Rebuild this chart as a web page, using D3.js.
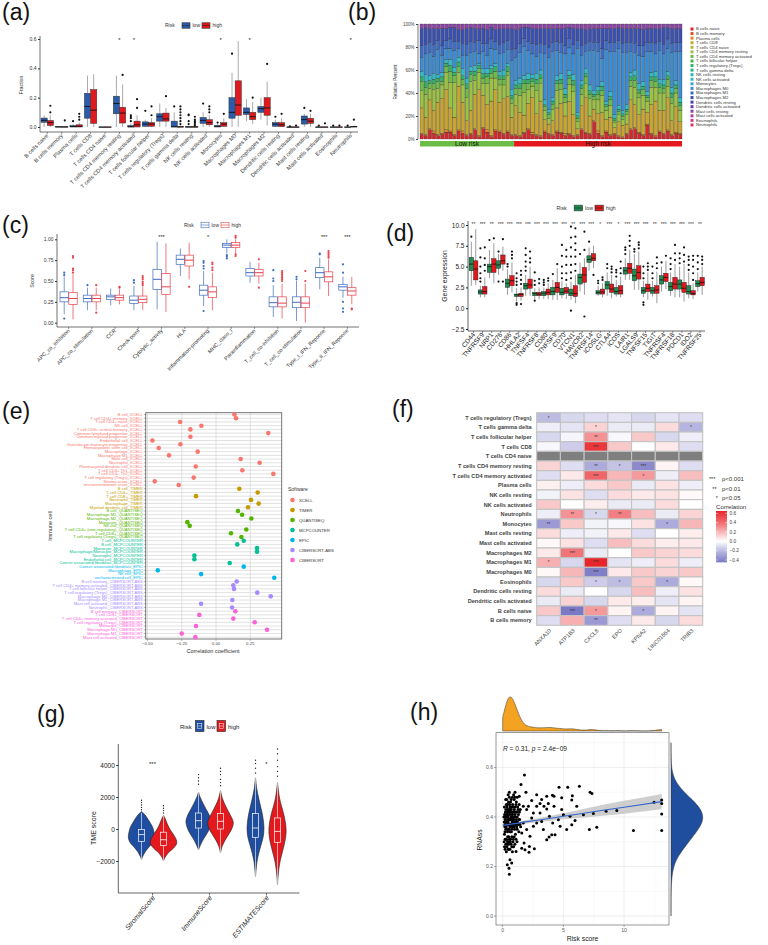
<!DOCTYPE html>
<html>
<head>
<meta charset="utf-8">
<script src="https://cdn.jsdelivr.net/npm/d3@7"></script>
<style>
body { margin: 0; background: #fff; }
svg { font-family: "Liberation Sans", Arial, sans-serif; }
</style>
</head>
<body>
<svg id="fig" width="768" height="945"></svg>
<script>
// ---------- panel (a) CIBERSORT fractions ----------
const aCells = ["B cells naive","B cells memory","Plasma cells","T cells CD8","T cells CD4 naive","T cells CD4 memory resting","T cells CD4 memory activated","T cells follicular helper","T cells regulatory (Tregs)","T cells gamma delta","NK cells resting","NK cells activated","Monocytes","Macrophages M0","Macrophages M1","Macrophages M2","Dendritic cells resting","Dendritic cells activated","Mast cells resting","Mast cells activated","Eosinophils","Neutrophils"];
// [lower whisker, q1, median, q3, upper whisker, outliers]
const aLow = [
  [0,0.032,0.045,0.061,0.08,[]],
  [0,0,0,0.003,0.005,[]],
  [0,0,0.003,0.01,0.02,[0.04]],
  [0,0.06,0.14,0.23,0.35,[]],
  [0,0,0,0,0,[]],
  [0,0.09,0.16,0.21,0.35,[]],
  [0,0,0.002,0.01,0.025,[0.04,0.06,0.07,0.08]],
  [0,0.005,0.02,0.035,0.05,[0.11]],
  [0,0.04,0.07,0.09,0.16,[]],
  [0,0,0.002,0.04,0.1,[0.14]],
  [0,0,0,0.002,0.005,[0.02,0.04,0.08,0.085]],
  [0,0.025,0.045,0.065,0.1,[0.16]],
  [0,0,0.005,0.01,0.02,[0.03]],
  [0,0.06,0.1,0.2,0.37,[0.5]],
  [0.04,0.085,0.1,0.13,0.19,[]],
  [0.05,0.1,0.125,0.14,0.2,[]],
  [0,0.005,0.02,0.03,0.05,[0.07]],
  [0,0,0,0,0,[0.005]],
  [0,0.02,0.05,0.075,0.09,[0.13]],
  [0,0,0,0,0.002,[0.01]],
  [0,0,0,0,0.002,[0.01]],
  [0,0,0,0,0.002,[0.01]]
];
const aHigh = [
  [0,0.01,0.03,0.045,0.08,[0.1,0.145]],
  [0,0,0,0.002,0.005,[0.045]],
  [0,0,0.005,0.015,0.03,[0.05,0.07,0.09]],
  [0,0.025,0.115,0.255,0.36,[]],
  [0,0,0,0,0,[]],
  [0,0.027,0.095,0.135,0.29,[0.355]],
  [0,0,0.015,0.04,0.08,[0.13,0.19]],
  [0,0.005,0.02,0.03,0.06,[0.08,0.14]],
  [0,0.04,0.055,0.095,0.13,[0.21]],
  [0,0,0,0.005,0.01,[0.02,0.04,0.06,0.08,0.1,0.12,0.14]],
  [0,0,0,0.002,0.005,[0.01,0.02,0.03,0.04,0.05,0.07]],
  [0,0.015,0.03,0.05,0.08,[0.1,0.12,0.14]],
  [0,0.005,0.02,0.03,0.06,[0.09]],
  [0,0.08,0.15,0.315,0.585,[]],
  [0.02,0.05,0.07,0.1,0.17,[0.2]],
  [0.01,0.08,0.13,0.2,0.31,[0.43]],
  [0,0.002,0.015,0.03,0.06,[0.09]],
  [0,0,0,0,0,[0.01]],
  [0,0.025,0.04,0.06,0.09,[0.11]],
  [0,0,0,0,0.002,[0.025]],
  [0,0,0,0,0.002,[0.01]],
  [0,0,0.002,0.005,0.01,[0.05]]
];
const aSig = ["","","","","","*","*","","","","","","*","","*","","","","","","","*"];
const aTicks = [0, 0.2, 0.4, 0.6];

// ---------- panel (b) relative percent per sample ----------
const bLegend = ["B cells naive","B cells memory","Plasma cells","T cells CD8","T cells CD4 naive","T cells CD4 memory resting","T cells CD4 memory activated","T cells follicular helper","T cells regulatory (Tregs)","T cells gamma delta","NK cells resting","NK cells activated","Monocytes","Macrophages M0","Macrophages M1","Macrophages M2","Dendritic cells resting","Dendritic cells activated","Mast cells resting","Mast cells activated","Eosinophils","Neutrophils"];
const bColors = ["#D7262C","#E2532A","#E4852C","#C9A52F","#B4B737","#9CC23F","#6DBC45","#45B54B","#2FB262","#27B387","#28B8AA","#2FBBC9","#36A6D8","#3A8DD5","#3C6EC8","#3A50B3","#4A3FA6","#6A3DA6","#8E46A8","#AE41A6","#CE3D95","#D93A6C"];
const bLowN = 23, bHighN = 41;
const bBNaive = [4,3,8,5,3,4,6,6,3,7,5,3,4,8,2,9,6,2,7,6,4,6,3, 3,2,5,8,4,3,2,6,4,3,6,5,3,4,2,3,8,5,4,15,5,2,6,3,4,2,1,4,8,9,5,3,12,4,2,6,4,7,3,5,4];
const bPlasma = [1,1,1,2,1,1,2,1,1,1,2,1,1,1,1,1,2,1,1,1,1,1,1, 1,1,1,1,2,1,1,1,1,1,1,1,2,1,1,1,1,1,1,1,2,1,1,1,1,1,1,1,1,1,1,1,1,1,1,1,1,1,1,1,1];
const bCD8 = [22,15,25,18,28,30,35,20,15,38,25,12,20,30,40,28,22,30,35,25,30,30,15, 25,20,15,22,30,18,30,10,8,12,20,25,15,28,18,5,20,30,15,10,15,20,10,15,5,12,10,8,25,20,15,22,10,25,30,18,20,28,12,22,10];
const bCD4Rest = [15,20,10,18,12,12,15,22,30,12,15,20,25,12,15,10,18,20,10,15,12,18,12, 10,15,20,12,10,20,15,8,5,10,15,12,12,15,20,6,10,12,15,8,12,15,8,10,4,6,5,8,12,15,15,12,10,15,12,15,15,10,15,12,10];
const bCD4Act = [8,6,4,5,6,3,5,10,6,5,5,8,6,4,3,5,6,4,6,5,5,4,4, 5,6,8,5,4,6,5,3,3,4,6,5,4,5,6,3,5,6,4,3,5,4,3,5,2,3,3,3,5,6,4,5,3,6,5,5,4,6,5,4,4];
const bTreg = [4,5,3,4,3,4,3,5,3,4,3,4,3,4,3,4,3,4,4,3,3,4,3, 3,4,3,4,3,4,3,2,2,3,3,4,3,3,4,2,3,3,3,2,3,4,2,3,2,2,2,2,3,4,3,3,2,3,4,3,3,3,4,3,3];
const bNK = [5,6,4,5,3,4,3,5,4,4,6,5,4,5,2,4,4,3,3,4,5,3,5, 4,5,4,5,3,5,4,4,3,3,4,5,5,4,5,3,4,4,5,3,4,4,3,4,3,3,3,4,4,5,5,4,3,4,5,4,5,4,5,4,4];
const bM0 = [12,18,20,15,22,15,10,10,15,8,12,20,12,12,8,15,12,15,12,15,15,12,25, 20,22,25,20,18,15,15,40,45,40,22,18,30,20,18,55,22,15,30,35,30,20,45,35,55,50,50,45,18,15,25,22,35,18,15,25,22,20,30,25,40];
const bM1 = [10,8,9,10,8,8,7,8,8,6,10,9,10,8,12,7,10,8,7,8,9,8,10, 8,8,7,8,9,10,8,8,9,8,8,9,7,8,8,7,8,7,8,7,8,9,8,8,8,7,8,9,8,8,8,9,8,8,9,8,8,8,8,8,8];
const bM2 = [15,15,12,14,10,15,10,10,12,10,12,14,12,12,10,13,12,10,10,14,12,10,18, 16,13,10,12,13,14,13,14,16,12,11,12,15,10,14,10,15,12,11,12,12,17,10,12,12,11,13,12,12,13,15,14,12,12,13,11,15,10,13,12,12];
const bMast = [4,3,4,4,4,4,4,3,3,5,5,4,3,4,4,4,5,3,5,4,4,4,4, 5,4,3,3,4,4,4,4,4,4,4,4,4,3,4,4,4,5,4,4,4,4,4,4,4,3,4,4,4,4,4,5,4,4,4,4,3,3,4,4,4];
const bTicks = [0, 0.2, 0.4, 0.6, 0.8, 1];

// ---------- panel (c) immune function scores ----------
const cCats = ["APC_co_inhibition","APC_co_stimulation","CCR","Check-point","Cytolytic_activity","HLA","Inflammation-promoting","MHC_class_I","Parainflammation","T_cell_co-inhibition","T_cell_co-stimulation","Type_I_IFN_Reponse","Type_II_IFN_Reponse"];
const cLow = [
  [0.1,0.25,0.30,0.37,0.55,[0.05,0.57,0.6]],
  [0.15,0.25,0.29,0.33,0.42,[0.45]],
  [0.21,0.28,0.31,0.33,0.41,[]],
  [0.15,0.23,0.27,0.32,0.44,[0.48,0.51]],
  [0.16,0.40,0.52,0.64,0.97,[]],
  [0.56,0.70,0.76,0.81,0.89,[]],
  [0.2,0.33,0.39,0.45,0.62,[0.14,0.65,0.68,0.72,0.74]],
  [0.83,0.90,0.93,0.95,1.0,[0.77,0.79,0.81]],
  [0.48,0.56,0.60,0.65,0.73,[]],
  [0.07,0.19,0.24,0.31,0.45,[0.5,0.53,0.63]],
  [0.02,0.18,0.245,0.31,0.5,[0.52,0.55]],
  [0.4,0.54,0.6,0.66,0.78,[0.82,0.83]],
  [0.3,0.39,0.43,0.46,0.55,[0.13,0.17,0.25,0.6,0.7]]
];
const cHigh = [
  [0.04,0.22,0.29,0.36,0.58,[0.6,0.63,0.65,0.78,0.8]],
  [0.15,0.25,0.29,0.33,0.42,[0.12,0.45]],
  [0.22,0.27,0.30,0.33,0.40,[0.42,0.43]],
  [0.15,0.24,0.28,0.32,0.43,[0.45,0.47,0.49,0.52,0.54,0.56]],
  [0.13,0.34,0.43,0.59,0.95,[]],
  [0.52,0.68,0.75,0.81,0.96,[0.43]],
  [0.15,0.30,0.37,0.43,0.6,[0.63,0.66,0.7,0.72]],
  [0.83,0.90,0.93,0.96,1.0,[0.8,0.82,1.02,1.04]],
  [0.47,0.56,0.60,0.64,0.72,[0.42,0.76]],
  [0.05,0.19,0.235,0.31,0.47,[0.5,0.52,0.54,0.56,0.58,0.6,0.62]],
  [0.0,0.18,0.235,0.31,0.47,[0.5,0.62]],
  [0.32,0.49,0.55,0.61,0.76,[0.78,0.8,0.82,0.84,0.86]],
  [0.22,0.33,0.38,0.42,0.55,[0.16,0.17]]
];
const cSig = ["","","","","***","","*","","","","","***","***"];
const cTicks = [0, 0.25, 0.5, 0.75, 1];

// ---------- panel (d) immune checkpoint genes ----------
const dGenes = ["CD44","TNFRSF9","NRP1","CD276","CD86","HHLA2","TNFSF4","TNFRSF8","CD80","TNFSF9","CD70","VTCN1","HAVCR2","TNFRSF14","ICOSLG","CTLA4","ICOS","LAIR1","LGALS9","TNFSF15","TIGIT","TNFRSF4","TNFRSF18","PDCD1","IDO2","TNFRSF25"];
const dLow = [
  [2.7,4.5,5.3,6.1,8.0,[8.6]],
  [1.3,1.7,1.95,2.2,2.7,[3.2,3.6,4.2,5.0,6.1,7.2]],
  [3.6,4.3,5.0,5.3,7.0,[8.2]],
  [4.0,4.8,5.2,5.7,6.5,[3.2,6.8]],
  [1.6,2.5,3.0,3.5,4.7,[5.0,5.3]],
  [0.8,1.4,1.6,1.7,2.4,[0.4,0.6,2.8,3.2,3.6,4.2]],
  [1.5,2.3,2.7,3.0,4.0,[4.5,5.0,5.6,6.4,7.2]],
  [1.1,1.5,1.75,1.9,2.4,[0.9,2.8,3.3,4.3]],
  [1.1,1.5,1.8,2.0,2.5,[2.8,3.1,3.4]],
  [1.0,1.6,2.0,2.5,3.4,[4.1]],
  [1.2,1.6,1.9,2.4,3.3,[3.6,4.2,5.0,6.3,7.6]],
  [1.0,1.5,1.8,2.3,3.2,[-0.3,3.6,4.3,5.2,6.2,7.3,8.5,9.8]],
  [2.0,2.9,3.7,4.1,5.5,[6.5]],
  [4.5,5.5,5.85,6.3,7.3,[8.0]],
  [1.5,1.7,1.9,2.1,2.7,[3.0,3.3]],
  [1.5,2.3,2.8,3.2,4.3,[4.8,5.3]],
  [1.4,1.7,2.0,2.5,3.4,[3.8,4.3,4.6]],
  [3.4,4.1,4.5,4.9,6.0,[6.5,7.0,7.3]],
  [2.2,3.3,3.9,4.7,6.5,[6.8,7.1]],
  [1.3,1.8,2.1,2.5,3.3,[0.4,0.7,3.6,4.2,5.0]],
  [1.4,1.8,2.1,2.5,3.3,[3.6,4.2,5.0]],
  [2.0,2.9,3.4,3.9,5.0,[5.5]],
  [1.5,2.1,2.6,3.1,4.3,[4.7,5.3,6.0]],
  [1.3,2.3,2.9,3.4,5.0,[5.4,6.0,6.6]],
  [1.2,1.7,2.0,2.7,4.3,[4.6,5.2,5.8,6.2]],
  [2.0,2.6,2.95,3.3,4.3,[4.7,5.5,6.3]]
];
const dHigh = [
  [2.8,3.4,4.7,5.7,9.5,[]],
  [1.3,1.7,2.0,2.6,3.7,[4.5,5.2,6.0,7.3]],
  [3.0,4.3,5.3,5.95,7.8,[8.4]],
  [4.5,5.3,5.7,6.4,7.4,[3.2,8.3]],
  [1.9,2.7,3.3,3.9,5.5,[6.0,6.4,6.8]],
  [0.9,1.4,1.65,1.8,2.5,[0.5,2.9,3.4,4.0,4.5]],
  [1.5,2.4,2.8,3.5,5.0,[5.5,6.0,6.8]],
  [1.1,1.5,1.7,1.9,2.5,[3.0,3.5]],
  [1.1,1.6,1.9,2.3,3.0,[3.3,3.6]],
  [1.0,1.9,2.5,3.1,4.8,[5.3]],
  [1.1,1.8,2.05,2.5,3.0,[3.4,4.2,5.2,6.2,7.0]],
  [0.6,1.4,1.75,2.7,4.0,[4.5,5.3,6.2,7.0,7.8,8.6,9.6]],
  [1.6,3.1,4.0,4.9,6.0,[-1.0,7.0,9.2]],
  [4.8,5.7,6.0,6.55,7.5,[4.0]],
  [1.3,1.7,1.95,2.3,3.0,[3.4,3.7]],
  [1.2,1.9,2.3,2.9,4.0,[4.3,4.7,5.0]],
  [1.3,1.7,2.1,2.7,3.8,[4.2,4.8,5.6]],
  [3.4,4.2,4.8,5.4,7.0,[7.5,8.1,8.7]],
  [2.2,3.5,4.3,5.1,6.8,[7.2,7.6,7.9]],
  [1.0,2.0,2.4,2.9,4.3,[4.6,5.0,5.4]],
  [0.6,1.8,2.2,2.7,4.4,[4.8,5.4,6.1]],
  [2.3,3.2,3.7,4.2,5.7,[6.3]],
  [1.3,2.3,2.9,3.7,5.3,[5.8,6.6,7.6]],
  [0.8,1.9,2.4,3.1,5.3,[5.6,6.4,7.3]],
  [1.1,1.6,1.75,2.1,3.0,[3.4,4.2,5.0,5.8,6.3]],
  [1.6,2.7,3.1,3.7,5.0,[5.3,5.8,6.2]]
];
const dSig = ["**","***","**","***","***","***","***","***","***","***","***","**","***","***","*","***","*","***","***","***","**","***","***","***","***","**"];
const dTicks = [-2.5, 0, 2.5, 5, 7.5, 10];

// ---------- panel (e) correlation by software ----------
const eSoftware = ["XCELL","TIMER","QUANTISEQ","MCPCOUNTER","EPIC","CIBERSORT-ABS","CIBERSORT"];
const eColors = ["#F8766D","#C49A00","#53B400","#00C094","#00B6EB","#A58AFF","#FB61D7"];
const eCells = [
  ["B cell","T cell CD4+ memory","T cell CD4+ naive","NK cell","T cell CD8+ central memory","Common lymphoid progenitor","Common myeloid progenitor","Endothelial cell","Granulocyte-monocyte progenitor","Hematopoietic stem cell","Macrophage","Macrophage M1","Mast cell","Neutrophil","Plasmacytoid dendritic cell","T cell CD4+ Th1","T cell CD4+ Th2","T cell regulatory (Tregs)","Stroma score","microenvironment score"],
  ["B cell","T cell CD4+","T cell CD8+","Neutrophil","Macrophage","Myeloid dendritic cell"],
  ["B cell","Macrophage M1","Macrophage M2","Monocyte","NK cell","T cell CD4+ (non-regulatory)","T cell CD8+","T cell regulatory (Tregs)"],
  ["T cell","B cell","Monocyte","Macrophage/Monocyte","Neutrophil","Endothelial cell","Cancer associated fibroblast"],
  ["Cancer associated fibroblast","Macrophage","NK cell","uncharacterized cell"],
  ["B cell memory","T cell CD4+ memory activated","T cell follicular helper","T cell regulatory (Tregs)","Macrophage M0","Macrophage M1","Mast cell activated","Neutrophil"],
  ["B cell memory","T cell CD8+","T cell CD4+ memory activated","T cell regulatory (Tregs)","Monocyte","Macrophage M0","Macrophage M1","Mast cell activated"]
];
const eCoef = [
  [0.134,0.146,-0.262,-0.107,-0.187,0.381,-0.187,-0.464,-0.26,-0.418,-0.134,-0.343,0.18,0.318,-0.148,0.192,0.418,-0.163,-0.447,-0.272],
  [0.17,0.304,-0.146,0.255,0.311,0.233],
  [0.16,0.19,0.258,-0.209,-0.192,0.221,0.109,0.185],
  [0.202,0.155,0.299,0.299,-0.158,-0.158,0.1],
  [0.202,-0.425,-0.109,0.425],
  [0.151,0.126,0.131,0.301,0.399,0.119,-0.109,0.117],
  [0.141,-0.122,0.126,0.282,-0.146,0.372,-0.25,-0.151]
];
const eTicks = [-0.5, -0.25, 0, 0.25];

// ---------- panel (f) gene vs immune cell correlation ----------
const fGenes = ["ANXA10","ATP1B3","CXCL8","EPO","KPNA2","LINC01554","TRIB3"];
const fCells = ["T cells regulatory (Tregs)","T cells gamma delta","T cells follicular helper","T cells CD8","T cells CD4 naive","T cells CD4 memory resting","T cells CD4 memory activated","Plasma cells","NK cells resting","NK cells activated","Neutrophils","Monocytes","Mast cells resting","Mast cells activated","Macrophages M2","Macrophages M1","Macrophages M0","Eosinophils","Dendritic cells resting","Dendritic cells activated","B cells naive","B cells memory"];
const fCor = [
  [-0.2,-0.12,-0.1,-0.08,-0.12,-0.08,-0.1],
  [-0.05,-0.08,0.12,-0.06,-0.06,0.1,-0.22],
  [-0.12,-0.03,0.3,-0.02,0.15,-0.12,-0.05],
  [-0.02,-0.15,0.55,0.15,0.0,0.06,-0.1],
  [null,null,null,null,null,null,null],
  [0.12,-0.1,-0.25,-0.18,-0.35,0.03,-0.1],
  [-0.1,0.06,0.42,0.2,0.28,-0.05,0.18],
  [0.04,-0.05,0.1,0.15,-0.06,0.08,-0.05],
  [-0.04,0.08,-0.1,0.1,0.06,0.08,0.02],
  [0.15,0.0,0.05,-0.06,-0.06,0.1,0.0],
  [-0.05,0.3,-0.12,0.35,0.18,-0.06,0.12],
  [-0.3,0.15,-0.04,-0.02,0.08,-0.25,0.2],
  [0.1,-0.05,-0.04,0.06,-0.1,0.0,0.05],
  [0.02,0.08,-0.1,0.18,0.1,0.05,0.06],
  [0.06,0.38,-0.06,0.0,0.15,0.12,0.1],
  [0.22,-0.12,0.6,-0.08,-0.05,0.1,-0.05],
  [0.02,0.2,-0.38,0.06,0.15,0.12,0.15],
  [-0.12,0.15,-0.15,-0.2,0.15,-0.25,0.02],
  [0.1,-0.06,0.0,-0.12,0.18,-0.05,0.08],
  [-0.06,0.12,-0.12,0.06,0.05,-0.08,0.03],
  [0.15,-0.4,0.28,0.03,-0.25,0.03,-0.08],
  [-0.1,0.22,-0.3,-0.1,0.06,-0.12,0.1]
];
const fSig = [
  ["*","","","","","",""],
  ["","","*","","","","*"],
  ["","","**","","","",""],
  ["","","***","","","",""],
  ["","","","","","",""],
  ["","","**","*","***","",""],
  ["","","***","","*","",""],
  ["","","","","","",""],
  ["","","","","","",""],
  ["","","","","","",""],
  ["","**","*","**","","",""],
  ["**","","","","","*",""],
  ["","","","","","",""],
  ["","","","","","",""],
  ["","***","","","","",""],
  ["*","","***","","","",""],
  ["","","***","","","",""],
  ["","","*","*","","*",""],
  ["","","","","","",""],
  ["","","","","","",""],
  ["","***","*","","*","",""],
  ["","","**","","","",""]
];
const fTicks = [-0.4, -0.2, 0, 0.2, 0.4, 0.6];

// ---------- panel (g) TME scores (violin profiles) ----------
const gGroups = ["StromalScore","ImmuneScore","ESTIMATEScore"];
const gViolinLow = [
  {v:[-1900,-1700,-1400,-1100,-800,-500,-200,100,400,700,900,1000,1100], w:[0,0.1,0.3,0.6,0.9,1.0,0.95,0.85,0.65,0.42,0.25,0.12,0]},
  {v:[-1300,-1000,-600,-200,200,500,800,1200,1600,2000,2300], w:[0,0.15,0.4,0.7,0.9,0.95,0.85,0.6,0.35,0.12,0]},
  {v:[-3000,-2500,-2000,-1500,-1000,-500,0,500,1000,1500,2000,2500,3200], w:[0,0.05,0.12,0.25,0.42,0.58,0.64,0.6,0.5,0.36,0.22,0.1,0]}
];
const gViolinHigh = [
  {v:[-2000,-1800,-1500,-1200,-900,-700,-400,-100,200,500,700,850], w:[0,0.1,0.35,0.75,1.0,0.98,0.8,0.55,0.35,0.2,0.1,0]},
  {v:[-1500,-1100,-700,-300,100,400,700,1100,1500,1900,2400], w:[0,0.12,0.35,0.65,0.9,0.97,0.85,0.6,0.35,0.15,0]},
  {v:[-3500,-3000,-2500,-2000,-1500,-1000,-500,0,500,1000,1500,2000,2900], w:[0,0.04,0.1,0.2,0.35,0.5,0.62,0.65,0.58,0.45,0.28,0.14,0]}
];
const gBoxLow = [
  [-1900,-770,-350,-40,1000,[1200,1350,1500,1650,1800]],
  [-1300,60,520,1000,2300,[2800,3000,3200,3400]],
  [-3000,-520,60,960,3200,[3500,3800,4100,4300]]
];
const gBoxHigh = [
  [-2000,-1040,-670,-200,850,[1000,1150,1300,1450]],
  [-1500,0,480,960,2400,[2700,2900,3100,3400,3600,3800]],
  [-3500,-830,-150,690,2900,[3300,3600,3900,4300,4700,5000]]
];
const gSig = ["***","","*"];
const gTicks = [-2000, 0, 2000, 4000];

// ---------- panel (h) RNAss vs risk score ----------
const hPoints = [
  [1.79,0.569],[1.51,0.531],[1.92,0.5],[1.02,0.5],[0.55,0.5],[1.37,0.484],[2.8,0.49],[3.63,0.484],[4.1,0.488],[4.64,0.52],
  [5.36,0.52],[6.32,0.524],[7.2,0.5],[7.36,0.495],[5.74,0.486],[4.86,0.478],[4.23,0.484],[3.21,0.47],[2.39,0.466],[5.69,0.468],
  [3.76,0.454],[2.8,0.443],[4.23,0.443],[6.1,0.443],[4.86,0.43],[3.63,0.432],[3.08,0.416],[6.65,0.409],[7.47,0.414],[8.52,0.423],
  [9.4,0.426],[12.47,0.459],[13.1,0.468],[13.1,0.454],[13.1,0.412],[13.1,0.345],[10.77,0.345],[7.75,0.358],[7.14,0.349],[5.27,0.349],
  [5.69,0.369],[5.96,0.386],[5.55,0.403],[5.0,0.409],[4.59,0.389],[4.73,0.362],[4.12,0.376],[3.85,0.403],[4.31,0.328],[4.04,0.328],
  [3.63,0.308],[3.82,0.319],[3.35,0.349],[2.8,0.376],[3.21,0.382],[2.53,0.362],[2.25,0.322],[2.61,0.272],[2.17,0.258],[2.2,0.281],
  [1.76,0.295],[1.57,0.274],[1.84,0.268],[1.1,0.261],[0.6,0.227],[0.74,0.214],[0.52,0.193],[0.55,0.169],[0.38,0.207],[1.57,0.335],
  [1.98,0.349],[1.7,0.376],[2.53,0.416],[2.12,0.443],[1.7,0.443],[2.39,0.396],[1.98,0.43],[3.08,0.454],[3.4,0.443],
  [0.12,0.30],[0.15,0.33],[0.18,0.36],[0.2,0.39],[0.22,0.42],[0.14,0.44],[0.25,0.35],[0.28,0.31],[0.3,0.38],[0.32,0.41],
  [0.35,0.44],[0.33,0.47],[0.38,0.29],[0.4,0.34],[0.42,0.37],[0.45,0.40],[0.44,0.43],[0.48,0.46],[0.5,0.32],[0.52,0.27],
  [0.55,0.35],[0.57,0.39],[0.6,0.42],[0.58,0.45],[0.62,0.30],[0.65,0.37],[0.68,0.40],[0.7,0.43],[0.72,0.34],[0.75,0.28],
  [0.77,0.38],[0.8,0.41],[0.82,0.45],[0.85,0.36],[0.88,0.31],[0.9,0.39],[0.93,0.42],[0.95,0.47],[0.98,0.35],[1.0,0.40],
  [1.03,0.44],[1.05,0.33],[1.08,0.38],[1.1,0.42],[1.13,0.46],[1.15,0.36],[1.18,0.30],[1.2,0.40],[1.23,0.44],[1.25,0.37],
  [1.3,0.41],[1.33,0.34],[1.36,0.45],[1.4,0.39],[1.45,0.43],[1.48,0.36],
  [0.1,0.40],[0.13,0.38],[0.16,0.41],[0.19,0.34],[0.21,0.37],[0.24,0.40],[0.26,0.43],[0.27,0.38],[0.29,0.36],[0.31,0.40],
  [0.34,0.38],[0.36,0.35],[0.37,0.42],[0.39,0.39],[0.41,0.32],[0.43,0.41],[0.46,0.38],[0.47,0.35],[0.49,0.42],[0.51,0.39],
  [0.53,0.37],[0.54,0.43],[0.56,0.41],[0.59,0.36],[0.61,0.39],[0.63,0.34],[0.64,0.44],[0.66,0.42],[0.69,0.36],[0.71,0.39],
  [0.73,0.41],[0.74,0.37],[0.76,0.44],[0.78,0.35],[0.79,0.40],[0.81,0.38],[0.83,0.42],[0.86,0.39],[0.87,0.44],[0.89,0.37],
  [0.92,0.40],[0.94,0.36],[0.96,0.43],[0.99,0.38],[1.02,0.41],[1.06,0.37],[1.09,0.45],[1.12,0.39],[1.16,0.42],[1.19,0.35],
  [1.22,0.38],[1.27,0.43],[1.32,0.39],[1.38,0.42],[1.42,0.37],
  [0.15,0.28],[0.2,0.27],[0.25,0.29],[0.3,0.26],[0.35,0.28],[0.45,0.27],[0.5,0.29],[0.6,0.27],[0.7,0.29],[0.8,0.26],
  [0.9,0.28],[0.3,0.31],[0.45,0.30],[0.65,0.31],[0.85,0.30],[1.0,0.29],[1.1,0.31],[0.2,0.31],[0.55,0.31],[0.75,0.32],
  [0.95,0.32],[0.4,0.30],
  [0.45,0.49],[0.55,0.48],[0.7,0.47],[0.9,0.49],[0.25,0.47],[1.0,0.48],[0.65,0.46],[0.8,0.48],[1.2,0.48],[0.4,0.45],
  [0.6,0.44],[0.3,0.45]
];
const hFitX = [0, 1, 2, 3, 4, 5, 6, 8, 10, 13.1];
const hFitY = [0.366, 0.373, 0.381, 0.388, 0.395, 0.403, 0.41, 0.425, 0.439, 0.462];
const hFitSE = [0.009, 0.007, 0.007, 0.008, 0.01, 0.012, 0.015, 0.021, 0.026, 0.031];
const hXTicks = [0, 5, 10];
const hYTicks = [0, 0.2, 0.4, 0.6];

// =====================================================================
const svg = d3.select("#fig");
const FONT = "Liberation Sans, Arial, sans-serif";

function panelLabel(txt, x, y) {
  svg.append("text").attr("x", x).attr("y", y).attr("font-size", 23).attr("fill", "#111").text(txt);
}
function boxplot(g, cx, w, s, y, o) {
  g.append("line").attr("x1", cx).attr("x2", cx).attr("y1", y(s[0])).attr("y2", y(s[4]))
    .attr("stroke", o.whisker).attr("stroke-width", o.lw);
  g.append("rect").attr("x", cx - w / 2).attr("y", y(s[3])).attr("width", w)
    .attr("height", Math.max(0.4, y(s[1]) - y(s[3])))
    .attr("fill", o.fill).attr("stroke", o.stroke).attr("stroke-width", o.lw);
  g.append("line").attr("x1", cx - w / 2).attr("x2", cx + w / 2).attr("y1", y(s[2])).attr("y2", y(s[2]))
    .attr("stroke", o.med).attr("stroke-width", o.mw);
  g.selectAll(null).data(s[5]).join("circle")
    .attr("cx", cx).attr("cy", d => y(d)).attr("r", o.r).attr("fill", o.pt);
}
function leftAxis(g, scale, x, ticks, fmt, fs, col, y0, y1) {
  const ax = g.append("g").attr("transform", `translate(${x},0)`)
    .call(d3.axisLeft(scale).tickValues(ticks).tickFormat(fmt).tickSize(2).tickPadding(1.5));
  ax.attr("font-family", FONT).attr("font-size", fs);
  ax.select(".domain").remove();
  ax.selectAll("line").attr("stroke", col);
  ax.selectAll("text").attr("fill", col);
  g.append("line").attr("x1", x).attr("x2", x).attr("y1", y0).attr("y2", y1).attr("stroke", col).attr("stroke-width", 0.7);
  return ax;
}
function riskLegend(g, x, y, fs, low, high, hollow) {
  g.append("text").attr("x", x).attr("y", y + fs * 0.35).attr("font-size", fs).attr("fill", "#333").text("Risk");
  const items = [["low", low], ["high", high]];
  let cx = x + fs * 3.4;
  items.forEach(([lab, col]) => {
    const bw = fs * 1.6, bh = fs * 1.1;
    g.append("rect").attr("x", cx).attr("y", y - bh / 2).attr("width", bw).attr("height", bh)
      .attr("fill", hollow ? "#fff" : col).attr("stroke", hollow ? col : "#333").attr("stroke-width", 0.6);
    g.append("line").attr("x1", cx).attr("x2", cx + bw).attr("y1", y).attr("y2", y)
      .attr("stroke", hollow ? col : "#222").attr("stroke-width", 0.6);
    g.append("text").attr("x", cx + bw + fs * 0.5).attr("y", y + fs * 0.35).attr("font-size", fs).attr("fill", "#333").text(lab);
    cx += bw + fs * (lab === "low" ? 2.4 : 2.8);
  });
}

// ---------------- (a) ----------------
(function () {
  const g = svg.append("g");
  panelLabel("(a)", 2, 20);
  const xb = d3.scaleBand().domain(aCells).range([40, 358]);
  const y = d3.scaleLinear().domain([0, 0.6]).range([127, 39]);
  const low = "#2A5CAA", high = "#E0191F";
  riskLegend(g, 165, 25.5, 5, low, high, false);
  aCells.forEach((c, i) => {
    const cx = xb(c) + xb.bandwidth() / 2;
    boxplot(g, cx - 3.1, 6.2, aLow[i], y, {fill: low, stroke: "#333", whisker: "#555", med: "#111", lw: 0.5, mw: 0.9, r: 1.1, pt: "#111"});
    boxplot(g, cx + 3.1, 6.2, aHigh[i], y, {fill: high, stroke: "#333", whisker: "#555", med: "#111", lw: 0.5, mw: 0.9, r: 1.1, pt: "#111"});
    if (aSig[i]) g.append("text").attr("x", cx).attr("y", 42).attr("text-anchor", "middle").attr("font-size", 6).attr("fill", "#222").text(aSig[i]);
    g.append("line").attr("x1", cx).attr("x2", cx).attr("y1", 132).attr("y2", 134).attr("stroke", "#333").attr("stroke-width", 0.5);
    g.append("text").attr("transform", `translate(${cx + 1.5},${136}) rotate(-45)`).attr("text-anchor", "end")
      .attr("font-size", 5.6).attr("fill", "#333").text(c);
  });
  leftAxis(g, y, 40, aTicks, d3.format(".1f"), 5, "#333", 36, 132);
  g.append("line").attr("x1", 40).attr("x2", 358).attr("y1", 132).attr("y2", 132).attr("stroke", "#333").attr("stroke-width", 0.7);
  g.append("text").attr("transform", "translate(23,85) rotate(-90)").attr("text-anchor", "middle").attr("font-size", 5.2).attr("fill", "#333").text("Fraction");
})();

// ---------------- (b) ----------------
(function () {
  const g = svg.append("g");
  panelLabel("(b)", 348, 20);
  const series = [
    ["B cells naive", bBNaive], ["Plasma cells", bPlasma], ["T cells CD8", bCD8], ["T cells CD4 memory resting", bCD4Rest],
    ["T cells CD4 memory activated", bCD4Act], ["T cells regulatory (Tregs)", bTreg], ["NK cells activated", bNK],
    ["Macrophages M0", bM0], ["Macrophages M1", bM1], ["Macrophages M2", bM2], ["Mast cells resting", bMast]
  ];
  const n = bLowN + bHighN;
  const rows = d3.range(n).map(i => {
    const r = {};
    series.forEach(([k, v]) => r[k] = v[i]);
    return r;
  });
  const stacked = d3.stack().keys(series.map(s => s[0])).offset(d3.stackOffsetExpand)(rows);
  const col = d3.scaleOrdinal().domain(bLegend).range(bColors);
  const xb = d3.scaleBand().domain(d3.range(n)).range([420, 682]).paddingInner(0.16);
  const y = d3.scaleLinear().domain([0, 1]).range([139, 24]);
  g.append("rect").attr("x", 420).attr("y", 24).attr("width", 262).attr("height", 115).attr("fill", "#d9d9d9");
  stacked.forEach(layer => {
    g.selectAll(null).data(layer).join("rect")
      .attr("x", (d, i) => xb(i)).attr("width", xb.bandwidth())
      .attr("y", d => y(d[1])).attr("height", d => y(d[0]) - y(d[1]))
      .attr("fill", col(layer.key)).attr("stroke", "#1a1a1a").attr("stroke-width", 0.25);
  });
  const split = xb(bLowN) - xb.step() * xb.paddingInner() / 2;
  g.append("rect").attr("x", 420).attr("y", 141).attr("width", split - 420).attr("height", 5.5).attr("fill", "#6CBD45");
  g.append("rect").attr("x", split).attr("y", 141).attr("width", 682 - split).attr("height", 5.5).attr("fill", "#E3191E");
  g.append("text").attr("x", (420 + split) / 2).attr("y", 146.2).attr("text-anchor", "middle").attr("font-size", 6.5).attr("fill", "#111").text("Low risk");
  g.append("text").attr("x", (split + 682) / 2).attr("y", 146.2).attr("text-anchor", "middle").attr("font-size", 6.5).attr("fill", "#111").text("High risk");
  leftAxis(g, y, 418, bTicks, d3.format(".0%"), 4.5, "#444", 24, 139);
  g.append("text").attr("transform", "translate(397,82) rotate(-90)").attr("text-anchor", "middle").attr("font-size", 4.8).attr("fill", "#333").text("Relative Percent");
  bLegend.forEach((name, i) => {
    const yy = 29 + i * 4.57;
    g.append("rect").attr("x", 690.5).attr("y", yy - 1.5).attr("width", 3).attr("height", 3).attr("fill", bColors[i]);
    g.append("text").attr("x", 696).attr("y", yy + 1.4).attr("font-size", 4.2).attr("fill", "#333").text(name);
  });
})();

// ---------------- (c) ----------------
(function () {
  const g = svg.append("g");
  panelLabel("(c)", 2, 233);
  const xb = d3.scaleBand().domain(cCats).range([57, 359]);
  const y = d3.scaleLinear().domain([0, 1]).range([322.7, 239.3]);
  const low = "#3D6CC0", high = "#E8414A";
  riskLegend(g, 184, 225, 5, low, high, true);
  cCats.forEach((c, i) => {
    const cx = xb(c) + xb.bandwidth() / 2;
    boxplot(g, cx - 4.4, 8.4, cLow[i], y, {fill: "#fff", stroke: low, whisker: low, med: low, lw: 0.7, mw: 1, r: 1.1, pt: low});
    boxplot(g, cx + 4.4, 8.4, cHigh[i], y, {fill: "#fff", stroke: high, whisker: high, med: high, lw: 0.7, mw: 1, r: 1.1, pt: high});
    if (cSig[i]) g.append("text").attr("x", cx).attr("y", 239).attr("text-anchor", "middle").attr("font-size", 5.5).attr("fill", "#222").text(cSig[i]);
    g.append("line").attr("x1", cx).attr("x2", cx).attr("y1", 327).attr("y2", 329).attr("stroke", "#333").attr("stroke-width", 0.5);
    g.append("text").attr("transform", `translate(${cx + 1.5},${331}) rotate(-45)`).attr("text-anchor", "end")
      .attr("font-size", 5.4).attr("fill", "#333").text(c);
  });
  leftAxis(g, y, 57, cTicks, d3.format(".2f"), 5, "#333", 234, 327);
  g.append("line").attr("x1", 57).attr("x2", 359).attr("y1", 327).attr("y2", 327).attr("stroke", "#333").attr("stroke-width", 0.7);
  g.append("text").attr("transform", "translate(34,281) rotate(-90)").attr("text-anchor", "middle").attr("font-size", 5.2).attr("fill", "#333").text("Score");
})();

// ---------------- (d) ----------------
(function () {
  const g = svg.append("g");
  panelLabel("(d)", 386, 241);
  const xb = d3.scaleBand().domain(dGenes).range([469, 704.5]);
  const y = d3.scaleLinear().domain([-2.5, 10]).range([329, 225]);
  const low = "#1E8C4E", high = "#E3161C";
  riskLegend(g, 556.5, 208, 5.2, low, high, false);
  dGenes.forEach((c, i) => {
    const cx = xb(c) + xb.bandwidth() / 2;
    boxplot(g, cx - 2.2, 4.4, dLow[i], y, {fill: low, stroke: "#222", whisker: "#222", med: "#111", lw: 0.45, mw: 0.8, r: 1.1, pt: "#111"});
    boxplot(g, cx + 2.2, 4.4, dHigh[i], y, {fill: high, stroke: "#222", whisker: "#222", med: "#111", lw: 0.45, mw: 0.8, r: 1.1, pt: "#111"});
    g.append("text").attr("x", cx).attr("y", 226).attr("text-anchor", "middle").attr("font-size", 5).attr("fill", "#333").text(dSig[i]);
    g.append("line").attr("x1", cx).attr("x2", cx).attr("y1", 331).attr("y2", 333).attr("stroke", "#222").attr("stroke-width", 0.5);
    g.append("text").attr("transform", `translate(${cx + 2},${335}) rotate(-50)`).attr("text-anchor", "end")
      .attr("font-size", 6.6).attr("fill", "#222").text(c);
  });
  leftAxis(g, y, 468, dTicks, d3.format(".1f"), 6.5, "#222", 221, 331);
  g.append("line").attr("x1", 468).attr("x2", 705).attr("y1", 331).attr("y2", 331).attr("stroke", "#222").attr("stroke-width", 0.7);
  g.append("text").attr("transform", "translate(447,276) rotate(-90)").attr("text-anchor", "middle").attr("font-size", 6.8).attr("fill", "#222").text("Gene expression");
})();

// ---------------- (e) ----------------
(function () {
  const g = svg.append("g");
  panelLabel("(e)", 2, 419);
  const rows = [];
  eCells.forEach((list, s) => list.forEach((c, j) => rows.push({label: c + "_" + eSoftware[s], sw: s, v: eCoef[s][j], key: s + "_" + j})));
  const x = d3.scaleLinear().domain([-0.513, 0.479]).range([145.7, 281.7]);
  const y = d3.scaleBand().domain(rows.map(r => r.key)).range([412.7, 639]);
  const cy = k => y(k) + y.bandwidth() / 2;
  g.append("rect").attr("x", 145.7).attr("y", 412.7).attr("width", 136).attr("height", 226.3).attr("fill", "#fff");
  g.selectAll(null).data(rows).join("line")
    .attr("x1", 145.7).attr("x2", 281.7).attr("y1", d => cy(d.key)).attr("y2", d => cy(d.key))
    .attr("stroke", "#d4d4d4").attr("stroke-width", 0.7);
  g.selectAll(null).data(eTicks).join("line")
    .attr("x1", d => x(d)).attr("x2", d => x(d)).attr("y1", 412.7).attr("y2", 639)
    .attr("stroke", "#d4d4d4").attr("stroke-width", 0.7);
  g.append("rect").attr("x", 145.7).attr("y", 412.7).attr("width", 136).attr("height", 226.3)
    .attr("fill", "none").attr("stroke", "#666").attr("stroke-width", 0.9);
  g.selectAll(null).data(rows).join("circle")
    .attr("cx", d => x(d.v)).attr("cy", d => cy(d.key)).attr("r", 2.3).attr("fill", d => eColors[d.sw]);
  g.selectAll(null).data(rows).join("line")
    .attr("x1", 143.7).attr("x2", 145.7).attr("y1", d => cy(d.key)).attr("y2", d => cy(d.key))
    .attr("stroke", "#555").attr("stroke-width", 0.4);
  g.selectAll(null).data(rows).join("text")
    .attr("x", 142.8).attr("y", d => cy(d.key) + 1.4).attr("text-anchor", "end")
    .attr("font-size", 4.1).attr("fill", d => eColors[d.sw]).text(d => d.label);
  eTicks.forEach(t => {
    g.append("line").attr("x1", x(t)).attr("x2", x(t)).attr("y1", 639).attr("y2", 641).attr("stroke", "#555").attr("stroke-width", 0.4);
    g.append("text").attr("x", x(t)).attr("y", 645).attr("text-anchor", "middle").attr("font-size", 4.3).attr("fill", "#444").text(d3.format(".2f")(t));
  });
  g.append("text").attr("x", 213).attr("y", 653).attr("text-anchor", "middle").attr("font-size", 5.5).attr("fill", "#333").text("Correlation coefficient");
  g.append("text").attr("transform", "translate(52,526) rotate(-90)").attr("text-anchor", "middle").attr("font-size", 5.5).attr("fill", "#333").text("Immune cell");
  g.append("text").attr("x", 288).attr("y", 491).attr("font-size", 5).attr("fill", "#333").text("Software");
  eSoftware.forEach((s, i) => {
    g.append("circle").attr("cx", 292.5).attr("cy", 500 + i * 10).attr("r", 2.3).attr("fill", eColors[i]);
    g.append("text").attr("x", 299).attr("y", 501.5 + i * 10).attr("font-size", 4.3).attr("fill", "#333").text(s);
  });
})();

// ---------------- (f) ----------------
(function () {
  const g = svg.append("g");
  panelLabel("(f)", 392, 417);
  const xb = d3.scaleBand().domain(fGenes).range([536.7, 702.7]);
  const yb = d3.scaleBand().domain(fCells).range([412.7, 625.3]);
  const color = d3.scaleLinear().domain([-0.4, 0, 0.6]).range(["#7B78C6", "#ffffff", "#E8252A"]).clamp(true);
  const cells = [];
  fCells.forEach((r, i) => fGenes.forEach((c, j) => cells.push({r, c, v: fCor[i][j], s: fSig[i][j]})));
  g.selectAll(null).data(cells).join("rect")
    .attr("x", d => xb(d.c)).attr("y", d => yb(d.r)).attr("width", xb.bandwidth()).attr("height", yb.bandwidth())
    .attr("fill", d => d.v === null ? "#7f7f7f" : color(d.v)).attr("stroke", "#c3c3c3").attr("stroke-width", 1.1);
  g.selectAll(null).data(cells.filter(d => d.s)).join("text")
    .attr("x", d => xb(d.c) + xb.bandwidth() / 2).attr("y", d => yb(d.r) + yb.bandwidth() / 2 + 2)
    .attr("text-anchor", "middle").attr("font-size", 4.5).attr("fill", "#333").text(d => d.s);
  g.selectAll(null).data(fCells).join("text")
    .attr("x", 531.7).attr("y", d => yb(d) + yb.bandwidth() / 2 + 2).attr("text-anchor", "end")
    .attr("font-size", 5.6).attr("font-weight", "bold").attr("fill", "#444").text(d => d);
  g.selectAll(null).data(fGenes).join("text")
    .attr("transform", d => `translate(${xb(d) + xb.bandwidth() / 2 + 3},${631}) rotate(-45)`)
    .attr("text-anchor", "end").attr("font-size", 5.6).attr("fill", "#444").text(d => d);
  // legend
  const sigLab = [["***", "p<0.001"], ["**", "p<0.01"], ["*", "p<0.05"]];
  sigLab.forEach(([s, p], i) => {
    g.append("text").attr("x", 719 - s.length * 1.2).attr("y", 481 + i * 9.5).attr("text-anchor", "end").attr("font-size", 5.5).attr("fill", "#333").text(s);
    g.append("text").attr("x", 722).attr("y", 481 + i * 9.5).attr("font-size", 6).attr("fill", "#333").text(p);
  });
  g.append("text").attr("x", 716).attr("y", 509).attr("font-size", 6.2).attr("fill", "#333").text("Correlation");
  const ly = d3.scaleLinear().domain([-0.4, 0.6]).range([560, 513.3]);
  const defs = svg.append("defs");
  const grad = defs.append("linearGradient").attr("id", "corGrad").attr("x1", 0).attr("y1", 1).attr("x2", 0).attr("y2", 0);
  [-0.45, -0.2, 0, 0.2, 0.4, 0.65].forEach(v => {
    grad.append("stop").attr("offset", (v + 0.45) / 1.1).attr("stop-color", color(v));
  });
  g.append("rect").attr("x", 716).attr("y", ly(0.65)).attr("width", 11).attr("height", ly(-0.45) - ly(0.65)).attr("fill", "url(#corGrad)");
  fTicks.forEach(t => {
    g.append("line").attr("x1", 716).attr("x2", 718).attr("y1", ly(t)).attr("y2", ly(t)).attr("stroke", "#fff").attr("stroke-width", 0.5);
    g.append("line").attr("x1", 725).attr("x2", 727).attr("y1", ly(t)).attr("y2", ly(t)).attr("stroke", "#fff").attr("stroke-width", 0.5);
    g.append("text").attr("x", 729.5).attr("y", ly(t) + 1.6).attr("font-size", 4.8).attr("fill", "#444").text(t === 0 ? "0.0" : d3.format(".1f")(t).replace("-", "\u2212"));
  });
})();

// ---------------- (g) ----------------
(function () {
  const g = svg.append("g");
  panelLabel("(g)", 37, 722);
  const xb = d3.scaleBand().domain(gGroups).range([124, 295]);
  const y = d3.scaleLinear().domain([-2000, 4000]).range([861, 765]);
  const low = "#1F4D9F", high = "#E3191E";
  // legend
  g.append("text").attr("x", 180).attr("y", 729).attr("font-size", 6).attr("fill", "#222").text("Risk");
  [["low", low, 195.5], ["high", high, 217]].forEach(([lab, c, x0]) => {
    g.append("rect").attr("x", x0).attr("y", 720.5).attr("width", 8.5).attr("height", 11).attr("fill", c).attr("stroke", "#222").attr("stroke-width", 0.6);
    g.append("rect").attr("x", x0 + 2.2).attr("y", 723.5).attr("width", 4.1).attr("height", 5).attr("fill", "none").attr("stroke", "#fff").attr("stroke-width", 0.5);
    g.append("line").attr("x1", x0 + 2.2).attr("x2", x0 + 6.3).attr("y1", 726).attr("y2", 726).attr("stroke", "#fff").attr("stroke-width", 0.5);
    g.append("text").attr("x", x0 + 11).attr("y", 729).attr("font-size", 6).attr("fill", "#222").text(lab);
  });
  const maxW = 13.2;
  const area = d3.area().curve(d3.curveCatmullRom)
    .y(d => y(d[0]));
  gGroups.forEach((grp, i) => {
    const cx = xb(grp) + xb.bandwidth() / 2;
    [[gViolinLow[i], gBoxLow[i], low, cx - 11], [gViolinHigh[i], gBoxHigh[i], high, cx + 11]].forEach(([vi, bx, c, vx]) => {
      const pts = vi.v.map((v, k) => [v, vi.w[k]]);
      g.append("path").datum(pts)
        .attr("d", area.x0(d => vx - d[1] * maxW).x1(d => vx + d[1] * maxW))
        .attr("fill", c).attr("stroke", "#222").attr("stroke-width", 0.6);
      g.selectAll(null).data(bx[5]).join("circle").attr("cx", vx).attr("cy", d => y(d)).attr("r", 0.7).attr("fill", "#222");
      g.append("line").attr("x1", vx).attr("x2", vx).attr("y1", y(bx[0])).attr("y2", y(bx[4])).attr("stroke", "#fff").attr("stroke-width", 0.6);
      g.append("rect").attr("x", vx - 3).attr("y", y(bx[3])).attr("width", 6).attr("height", y(bx[1]) - y(bx[3]))
        .attr("fill", c).attr("stroke", "#fff").attr("stroke-width", 0.7);
      g.append("line").attr("x1", vx - 3).attr("x2", vx + 3).attr("y1", y(bx[2])).attr("y2", y(bx[2])).attr("stroke", "#fff").attr("stroke-width", 0.8);
    });
    if (gSig[i]) g.append("text").attr("x", cx).attr("y", 766).attr("text-anchor", "middle").attr("font-size", 6).attr("fill", "#222").text(gSig[i]);
    g.append("line").attr("x1", cx).attr("x2", cx).attr("y1", 893).attr("y2", 895.5).attr("stroke", "#222").attr("stroke-width", 0.6);
    g.append("text").attr("transform", `translate(${cx + 3},${898}) rotate(-50)`).attr("text-anchor", "end")
      .attr("font-size", 7).attr("font-style", "italic").attr("fill", "#222").text(grp);
  });
  leftAxis(g, y, 118.3, gTicks, d3.format("d"), 6.5, "#222", 744, 893);
  g.append("line").attr("x1", 118.3).attr("x2", 299.5).attr("y1", 893).attr("y2", 893).attr("stroke", "#222").attr("stroke-width", 0.7);
  g.append("text").attr("transform", "translate(96,828) rotate(-90)").attr("text-anchor", "middle").attr("font-size", 7).attr("fill", "#222").text("TME score");
})();

// ---------------- (h) ----------------
(function () {
  const g = svg.append("g");
  panelLabel("(h)", 410, 720);
  const x = d3.scaleLinear().domain([-0.55, 13.7]).range([496, 669]);
  const y = d3.scaleLinear().domain([-0.036, 0.74]).range([925, 732.7]);
  g.append("rect").attr("x", 496).attr("y", 732.7).attr("width", 173).attr("height", 192.3).attr("fill", "#fff");
  [2.5, 7.5, 12.5].forEach(t => g.append("line").attr("x1", x(t)).attr("x2", x(t)).attr("y1", 732.7).attr("y2", 925).attr("stroke", "#f2f2f2").attr("stroke-width", 0.5));
  [0.1, 0.3, 0.5, 0.7].forEach(t => g.append("line").attr("x1", 496).attr("x2", 669).attr("y1", y(t)).attr("y2", y(t)).attr("stroke", "#f2f2f2").attr("stroke-width", 0.5));
  hXTicks.forEach(t => g.append("line").attr("x1", x(t)).attr("x2", x(t)).attr("y1", 732.7).attr("y2", 925).attr("stroke", "#e6e6e6").attr("stroke-width", 0.7));
  hYTicks.forEach(t => g.append("line").attr("x1", 496).attr("x2", 669).attr("y1", y(t)).attr("y2", y(t)).attr("stroke", "#e6e6e6").attr("stroke-width", 0.7));
  // confidence band + fit
  const band = hFitX.map((v, i) => [v, hFitY[i] - hFitSE[i], hFitY[i] + hFitSE[i]]);
  g.append("path").datum(band).attr("d", d3.area().x(d => x(d[0])).y0(d => y(d[1])).y1(d => y(d[2])).curve(d3.curveMonotoneX))
    .attr("fill", "#bdbdbd").attr("opacity", 0.75);
  g.selectAll(null).data(hPoints).join("circle")
    .attr("cx", d => x(d[0])).attr("cy", d => y(d[1])).attr("r", 1.5).attr("fill", "#000");
  g.append("path").datum(hFitX.map((v, i) => [v, hFitY[i]])).attr("d", d3.line().x(d => x(d[0])).y(d => y(d[1])))
    .attr("fill", "none").attr("stroke", "#3366CC").attr("stroke-width", 1.1);
  g.append("rect").attr("x", 496).attr("y", 732.7).attr("width", 173).attr("height", 192.3)
    .attr("fill", "none").attr("stroke", "#555").attr("stroke-width", 0.6);
  const t = g.append("text").attr("x", 503).attr("y", 751).attr("font-size", 6.6).attr("fill", "#222");
  t.append("tspan").attr("font-style", "italic").text("R");
  t.append("tspan").text(" = 0.31, ");
  t.append("tspan").attr("font-style", "italic").text("p");
  t.append("tspan").text(" = 2.4e\u221209");
  hXTicks.forEach(v => {
    g.append("line").attr("x1", x(v)).attr("x2", x(v)).attr("y1", 925).attr("y2", 927).attr("stroke", "#555").attr("stroke-width", 0.5);
    g.append("text").attr("x", x(v)).attr("y", 932).attr("text-anchor", "middle").attr("font-size", 5).attr("fill", "#555").text(v);
  });
  hYTicks.forEach(v => {
    g.append("line").attr("x1", 494).attr("x2", 496).attr("y1", y(v)).attr("y2", y(v)).attr("stroke", "#555").attr("stroke-width", 0.5);
    g.append("text").attr("x", 493).attr("y", y(v) + 1.7).attr("text-anchor", "end").attr("font-size", 5).attr("fill", "#555").text(d3.format(".1f")(v));
  });
  g.append("text").attr("x", 582.5).attr("y", 941).attr("text-anchor", "middle").attr("font-size", 6.8).attr("fill", "#222").text("Risk score");
  g.append("text").attr("transform", "translate(482,840) rotate(-90)").attr("text-anchor", "middle").attr("font-size", 6.8).attr("fill", "#222").text("RNAss");
  // marginal densities from the points
  function kde(vals, bw, grid) {
    return grid.map(gx => [gx, d3.mean(vals, v => Math.exp(-0.5 * ((gx - v) / bw) ** 2))]);
  }
  const xs = hPoints.map(d => d[0]), ys = hPoints.map(d => d[1]);
  const gridX = d3.range(0, 13.12, 0.1);
  const dx = kde(xs, 0.32, gridX);
  const hx = d3.scaleLinear().domain([0, d3.max(dx, d => d[1])]).range([731, 696.7]);
  g.append("path").datum(dx).attr("d", d3.area().x(d => x(d[0])).y0(731).y1(d => hx(d[1])).curve(d3.curveBasis))
    .attr("fill", "#F3A221").attr("stroke", "#333").attr("stroke-width", 0.5);
  const gridY = d3.range(0.0, 0.705, 0.005);
  const dy = kde(ys, 0.045, gridY);
  const hy = d3.scaleLinear().domain([0, d3.max(dy, d => d[1])]).range([671, 702.7]);
  g.append("path").datum(dy).attr("d", d3.area().y(d => y(d[0])).x0(671).x1(d => hy(d[1])).curve(d3.curveBasis))
    .attr("fill", "#1F4E9F").attr("stroke", "#333").attr("stroke-width", 0.5);
})();
</script>
</body>
</html>
